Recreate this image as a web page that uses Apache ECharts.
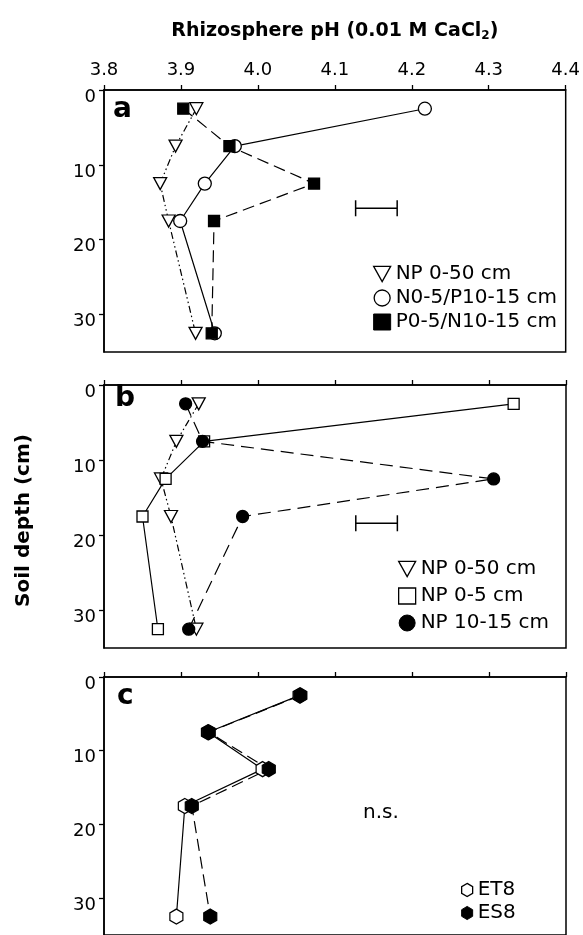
<!DOCTYPE html>
<html lang="en" style="height: 100%">
<head>
  <meta charset="utf-8">
  <title>Rhizosphere pH</title>
</head>
<body style="height: 100%; margin: 0; background: #fff;">
  <div id="container" style="width: 583px; height: 935px;"></div>
  <script type="text/javascript" src="https://cdn.jsdelivr.net/npm/echarts@6/dist/echarts.min.js"></script>
  <script type="text/javascript">
    // soil depth of each sampling layer (cm)
    var depths = [2.5, 7.5, 12.5, 17.5, 32.5];

    // panel a
    var aNP050 = [3.920, 3.893, 3.873, 3.884, 3.919];
    var aN5P15 = [4.217, 3.970, 3.931, 3.899, 3.944];
    var aP5N15 = [3.903, 3.963, 4.073, 3.943, 3.940];
    var aErrBar = [4.127, 4.181, 15.8];

    // panel b
    var bNP050 = [3.923, 3.894, 3.874, 3.887, 3.920];
    var bNP05 = [4.332, 3.930, 3.880, 3.850, 3.870];
    var bNP1015 = [3.906, 3.928, 4.306, 3.980, 3.910];
    var bErrBar = [4.127, 4.181, 18.4];

    // panel c
    var cET8 = [4.054, 3.935, 4.006, 3.905, 3.894];
    var cES8 = [4.055, 3.936, 4.014, 3.914, 3.938];

    var phTicks = ['3.8', '3.9', '4.0', '4.1', '4.2', '4.3', '4.4'];

    var FONT = 'DejaVu Sans';
    var TRI = 'path://M0,0L10,0L5,9Z';
    var HEX = 'path://M5,0L10,3L10,9L5,12L0,9L0,3Z';

    function pairs(xs) {
      return xs.map(function (v, i) { return [v, depths[i]]; });
    }

    var dom = document.getElementById('container');
    var myChart = echarts.init(dom, null, { renderer: 'canvas' });

    var grids = [
      { left: 104, top: 90, width: 462, height: 262 },
      { left: 104, top: 385, width: 462, height: 263 },
      { left: 104, top: 677, width: 462, height: 262 }
    ];

    var xAxes = grids.map(function (g, i) {
      var ax = {
        type: 'value', gridIndex: i, position: 'top',
        min: 3.8, max: 4.4, interval: 0.1,
        axisLine: { lineStyle: { color: '#000', width: 1.5 } },
        axisTick: { inside: false, length: 5, lineStyle: { color: '#000', width: 1.3 } },
        axisLabel: {
          show: i === 0, margin: 11, color: '#000', fontSize: 18, fontFamily: FONT,
          formatter: function (v) { return phTicks[Math.round((v - 3.8) * 10)]; }
        },
        splitLine: { show: false }
      };
      if (i === 0) {
        ax.name = '{t|Rhizosphere pH (0.01 M CaCl}{s|2}{t|)}';
        ax.nameLocation = 'middle';
        ax.nameGap = 48;
        ax.nameTextStyle = {
          rich: {
            t: { fontSize: 19, fontWeight: 'bold', fontFamily: FONT, color: '#000', lineHeight: 22 },
            s: { fontSize: 12, fontWeight: 'bold', fontFamily: FONT, color: '#000', lineHeight: 12, verticalAlign: 'bottom' }
          }
        };
      }
      return ax;
    });

    var yAxes = grids.map(function (g, i) {
      var ax = {
        type: 'value', gridIndex: i, inverse: true,
        min: 0, max: 35, interval: 10,
        axisLine: { lineStyle: { color: '#000', width: 1.5 } },
        axisTick: { inside: false, length: 5, lineStyle: { color: '#000', width: 1.3 } },
        axisLabel: {
          margin: 8, color: '#000', fontSize: 18, fontFamily: FONT,
          verticalAlign: 'top', lineHeight: 14,
          showMaxLabel: false
        },
        splitLine: { show: false }
      };
      if (i === 1) {
        ax.name = 'Soil depth (cm)';
        ax.nameLocation = 'middle';
        ax.nameGap = 70;
        ax.nameTextStyle = { fontSize: 20, fontWeight: 'bold', fontFamily: FONT, color: '#000', padding: [0, 8, 0, 0] };
      }
      return ax;
    });

    function lineSeries(name, gi, xs, symbol, size, filled, dash) {
      return {
        name: name, type: 'line', xAxisIndex: gi, yAxisIndex: gi,
        data: pairs(xs),
        symbol: symbol, symbolSize: size,
        showAllSymbol: true,
        lineStyle: { color: '#000', width: 1.2, type: dash },
        itemStyle: { color: filled ? '#000' : '#fff', borderColor: '#000', borderWidth: 1.3 },
        emphasis: { disabled: true },
        animation: false
      };
    }

    function errSeries(gi, bar) {
      return {
        type: 'custom', xAxisIndex: gi, yAxisIndex: gi,
        data: [bar],
        encode: { x: [0, 1], y: 2 },
        renderItem: function (params, api) {
          var p1 = api.coord([api.value(0), api.value(2)]);
          var p2 = api.coord([api.value(1), api.value(2)]);
          var st = { stroke: '#000', lineWidth: 1.5 };
          return {
            type: 'group',
            children: [
              { type: 'line', shape: { x1: p1[0], y1: p1[1], x2: p2[0], y2: p2[1] }, style: st },
              { type: 'line', shape: { x1: p1[0], y1: p1[1] - 8, x2: p1[0], y2: p1[1] + 8 }, style: st },
              { type: 'line', shape: { x1: p2[0], y1: p2[1] - 8, x2: p2[0], y2: p2[1] + 8 }, style: st }
            ]
          };
        },
        animation: false
      };
    }

    var dashDotDot = [7, 3, 1.5, 3, 1.5, 3];
    var longDash = [12, 6];

    var legendText = { fontSize: 20, fontFamily: FONT, color: '#000' };
    var openStyle = { color: '#fff', borderColor: '#000', borderWidth: 1.3 };
    var fillStyle = { color: '#000', borderColor: '#000', borderWidth: 1 };

    var option = {
      backgroundColor: '#fff',
      animation: false,
      grid: grids.map(function (g) {
        return Object.assign({ show: true, borderColor: '#000', borderWidth: 1.5, backgroundColor: 'transparent' }, g);
      }),
      xAxis: xAxes,
      yAxis: yAxes,
      legend: [
        {
          orient: 'vertical', left: 373, top: 264, padding: 0,
          itemWidth: 17, itemHeight: 16, itemGap: 4, selectedMode: false,
          textStyle: legendText,
          data: [
            { name: 'NP 0-50 cm', icon: TRI, itemStyle: openStyle },
            { name: 'N0-5/P10-15 cm', icon: 'circle', itemStyle: openStyle },
            { name: 'P0-5/N10-15 cm', icon: 'rect', itemStyle: fillStyle }
          ]
        },
        {
          orient: 'vertical', left: 398, top: 559, padding: 0,
          itemWidth: 17, itemHeight: 16, itemGap: 7, selectedMode: false,
          textStyle: legendText,
          data: [
            { name: 'NP 0-50 cm', icon: TRI, itemStyle: openStyle },
            { name: 'NP 0-5 cm', icon: 'rect', itemStyle: openStyle },
            { name: 'NP 10-15 cm', icon: 'circle', itemStyle: fillStyle }
          ]
        },
        {
          orient: 'vertical', left: 461, top: 880, padding: 0,
          itemWidth: 11, itemHeight: 14, itemGap: 3, selectedMode: false,
          textStyle: legendText,
          data: [
            { name: 'ET8', icon: HEX, itemStyle: openStyle },
            { name: 'ES8', icon: HEX, itemStyle: fillStyle }
          ]
        }
      ],
      graphic: [
        { type: 'text', left: 113, top: 96, style: { text: 'a', fontSize: 28, fontWeight: 'bold', fontFamily: FONT, fill: '#000' } },
        { type: 'text', left: 115, top: 385, style: { text: 'b', fontSize: 28, fontWeight: 'bold', fontFamily: FONT, fill: '#000' } },
        { type: 'text', left: 117, top: 683, style: { text: 'c', fontSize: 28, fontWeight: 'bold', fontFamily: FONT, fill: '#000' } },
        { type: 'text', left: 363, top: 803, style: { text: 'n.s.', fontSize: 20, fontFamily: FONT, fill: '#000' } }
      ],
      series: [
        lineSeries('NP 0-50 cm', 0, aNP050, TRI, [13, 12], false, dashDotDot),
        lineSeries('N0-5/P10-15 cm', 0, aN5P15, 'circle', 13, false, 'solid'),
        lineSeries('P0-5/N10-15 cm', 0, aP5N15, 'rect', 11, true, longDash),
        errSeries(0, aErrBar),

        lineSeries('NP 0-50 cm', 1, bNP050, TRI, [13, 12], false, dashDotDot),
        lineSeries('NP 0-5 cm', 1, bNP05, 'rect', 11, false, 'solid'),
        lineSeries('NP 10-15 cm', 1, bNP1015, 'circle', 12, true, [13, 7]),
        errSeries(1, bErrBar),

        lineSeries('ET8', 2, cET8, HEX, [13, 15], false, 'solid'),
        lineSeries('ES8', 2, cES8, HEX, [13, 15], true, longDash)
      ]
    };

    myChart.setOption(option);
    window.addEventListener('resize', myChart.resize);
  </script>
</body>
</html>
